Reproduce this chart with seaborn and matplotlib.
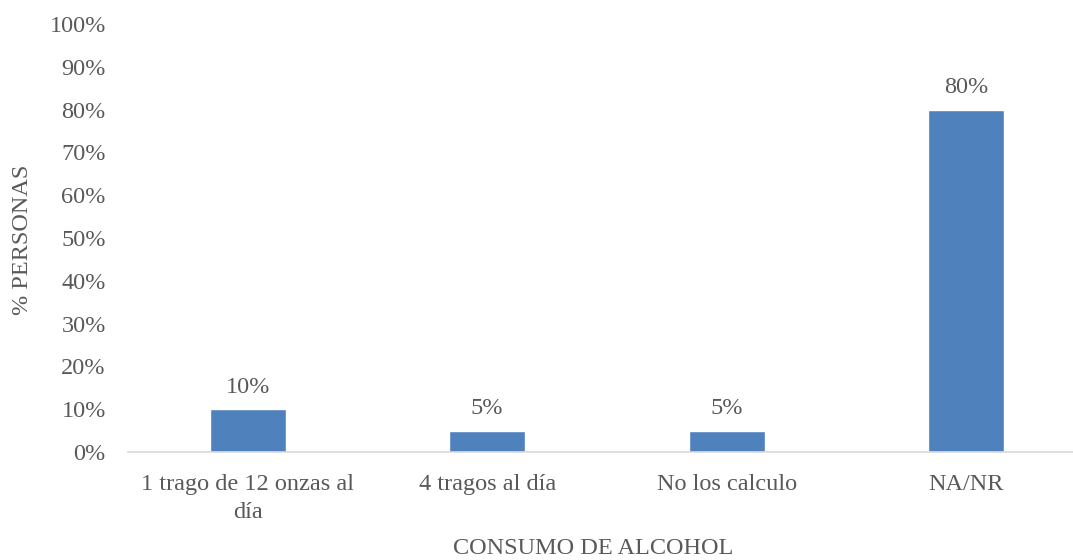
import matplotlib
matplotlib.use("Agg")
import matplotlib.pyplot as plt
import seaborn as sns
import pandas as pd

categorias = ["1 trago de 12 onzas al\ndía", "4 tragos al día", "No los calculo", "NA/NR"]
porcentajes = [10, 5, 5, 80]
ticks_y = list(range(0, 101, 10))

sns.set_theme(style="white")
plt.rcParams["font.family"] = ["Liberation Serif", "DejaVu Serif"]

TEXTO = "#595959"
AZUL = "#4F81BD"
FS = 17.5

df = pd.DataFrame({"categoria": categorias, "porcentaje": porcentajes})

W, H = 1073, 560
fig = plt.figure(figsize=(W / 100, H / 100), dpi=100)
ax = fig.add_axes([128 / W, 1 - 452 / H, 958 / W, 428 / H])

sns.barplot(data=df, x="categoria", y="porcentaje", color=AZUL, width=0.317,
            saturation=1, ax=ax)

ax.set_ylim(0, 100)
ax.set_yticks(ticks_y)
ax.set_yticklabels([f"{v}%" for v in ticks_y])
ax.set_xlim(-0.5, len(categorias) - 0.5)

for i, v in enumerate(porcentajes):
    ax.annotate(f"{v}%", (i, v), xytext=(0, 12), textcoords="offset points",
                ha="center", va="baseline", fontsize=FS, color=TEXTO)

for s in ["top", "right", "left"]:
    ax.spines[s].set_visible(False)
ax.spines["bottom"].set_color("#D9D9D9")
ax.spines["bottom"].set_linewidth(1.2)
ax.tick_params(axis="both", length=0, labelsize=FS, colors=TEXTO)
ax.tick_params(axis="y", pad=16)
ax.tick_params(axis="x", pad=16)
for lbl in ax.get_xticklabels():
    lbl.set_linespacing(1.4)

ax.set_xlabel("")
ax.set_ylabel("")
fig.text(593 / W, 1 - 549 / H, "CONSUMO DE ALCOHOL", ha="center", va="center",
         fontsize=FS, color=TEXTO)
fig.text(23 / W, 1 - 240 / H, "% PERSONAS", ha="center", va="center",
         rotation=90, fontsize=FS, color=TEXTO)

fig.savefig("out.png", dpi=100)
